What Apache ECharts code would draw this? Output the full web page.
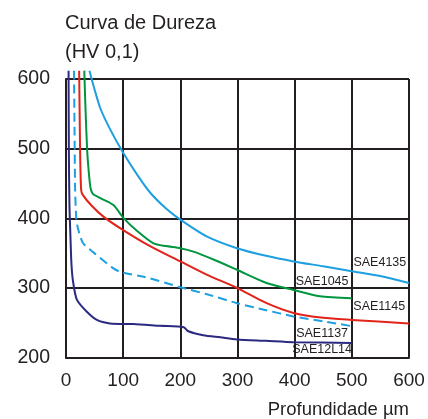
<!DOCTYPE html>
<html>
<head>
<meta charset="utf-8">
<script src="https://cdn.jsdelivr.net/npm/echarts@6/dist/echarts.min.js"></script>
<style>
html, body { margin: 0; padding: 0; background: #fff; }
#chart { width: 428px; height: 419px; }
</style>
</head>
<body>
<div id="chart"></div>
<script>
// profundidade (um) e dureza (HV 0,1)
const sae4135 = [[41, 612], [50, 585], [60, 558], [77, 528], [100, 494], [125, 462], [147, 437], [175, 414], [200, 398], [246, 374], [299, 357], [350, 346], [398, 338], [450, 331], [500, 324], [550, 317], [600, 307]]
const sae1045 = [[32, 612], [34, 560], [37, 498], [40, 465], [43, 443], [47, 435], [60, 429], [83, 419], [100, 401], [124, 382], [153, 364], [175, 360], [200, 357], [223, 352], [260, 340], [299, 326], [351, 307], [398, 297], [444, 288], [500, 285]]
const sae1145 = [[23, 612], [24, 540], [25, 480], [26.5, 441], [29, 434], [45, 418], [66, 402], [100, 383], [147, 360], [200, 338], [246, 319], [299, 300], [351, 278], [398, 264], [450, 257], [500, 254], [600, 249]]
const sae1137 = [[14, 612], [15, 520], [16, 440], [18, 400], [21, 385], [30, 364], [48, 351], [83, 328], [98, 322], [136, 316], [200, 301], [250, 290], [299, 278], [350, 268], [398, 259], [450, 252], [500, 245]]
const sae12l14 = [[4.5, 612], [5, 500], [6, 420], [8, 368], [9.5, 335], [12, 311], [19, 283], [36, 266], [54, 254], [77, 249], [118, 248], [165, 245.5], [206, 243.5], [213, 238], [240, 232], [270, 229], [299, 226], [350, 224], [398, 222], [500, 221]]

const names = ['SAE4135', 'SAE1045', 'SAE1145', 'SAE1137', 'SAE12L14']
const colors = ['#1e9fe0', '#00963f', '#e2231a', '#1e9fe0', '#2b2a80']
const labelPos = [[549, 336], [448, 309], [548, 273], [448, 235], [448, 211]]

const xTicks = [0, 100, 200, 300, 400, 500, 600]
const yTicks = [200, 300, 400, 500, 600]

const font = 'Liberation Sans, Arial, sans-serif'
const chart = echarts.init(document.getElementById('chart'))

function makeSeries(data, i, dashed) {
  return {
    name: names[i],
    type: 'line',
    data: data,
    smooth: 0.25,
    showSymbol: false,
    clip: false,
    lineStyle: {
      color: colors[i],
      width: 2,
      type: dashed ? [9, 5] : 'solid'
    },
    markPoint: {
      symbol: 'circle',
      symbolSize: 0,
      data: [{ coord: labelPos[i] }],
      label: {
        show: true,
        position: 'inside',
        formatter: names[i],
        color: '#231f20',
        fontFamily: 'Liberation Sans Narrow, Arial Narrow, sans-serif',
        fontSize: 12.5
      }
    }
  }
}

const option = {
  animation: false,
  title: [{
    text: 'Curva de Dureza\n(HV 0,1)',
    left: 60,
    top: 4,
    textStyle: {
      fontFamily: font,
      fontSize: 20,
      fontWeight: 'normal',
      color: '#231f20',
      lineHeight: 29
    }
  }, {
    text: 'Profundidade µm',
    right: 14,
    top: 395,
    textStyle: {
      fontFamily: font,
      fontSize: 18.5,
      fontWeight: 'normal',
      color: '#231f20'
    }
  }],
  grid: {
    left: 66,
    right: 19,
    top: 79,
    bottom: 61.5
  },
  xAxis: {
    type: 'value',
    min: xTicks[0],
    max: xTicks[xTicks.length - 1],
    interval: 100,
    axisLine: { lineStyle: { color: '#231f20', width: 2 } },
    axisTick: { show: false },
    axisLabel: {
      color: '#231f20',
      fontFamily: font,
      fontSize: 19,
      margin: 14
    },
    splitLine: { lineStyle: { color: '#231f20', width: 2 } }
  },
  yAxis: {
    type: 'value',
    min: yTicks[0],
    max: yTicks[yTicks.length - 1],
    interval: 100,
    axisLine: { show: true, lineStyle: { color: '#231f20', width: 2 } },
    axisTick: { show: false },
    axisLabel: {
      color: '#231f20',
      fontFamily: font,
      fontSize: 19.5,
      margin: 16,
      padding: [4, 0, 0, 0]
    },
    splitLine: { lineStyle: { color: '#231f20', width: 2 } }
  },
  series: [
    makeSeries(sae4135, 0, false),
    makeSeries(sae1045, 1, false),
    makeSeries(sae1145, 2, false),
    makeSeries(sae1137, 3, true),
    makeSeries(sae12l14, 4, false)
  ]
}

chart.setOption(option)
</script>
</body>
</html>
